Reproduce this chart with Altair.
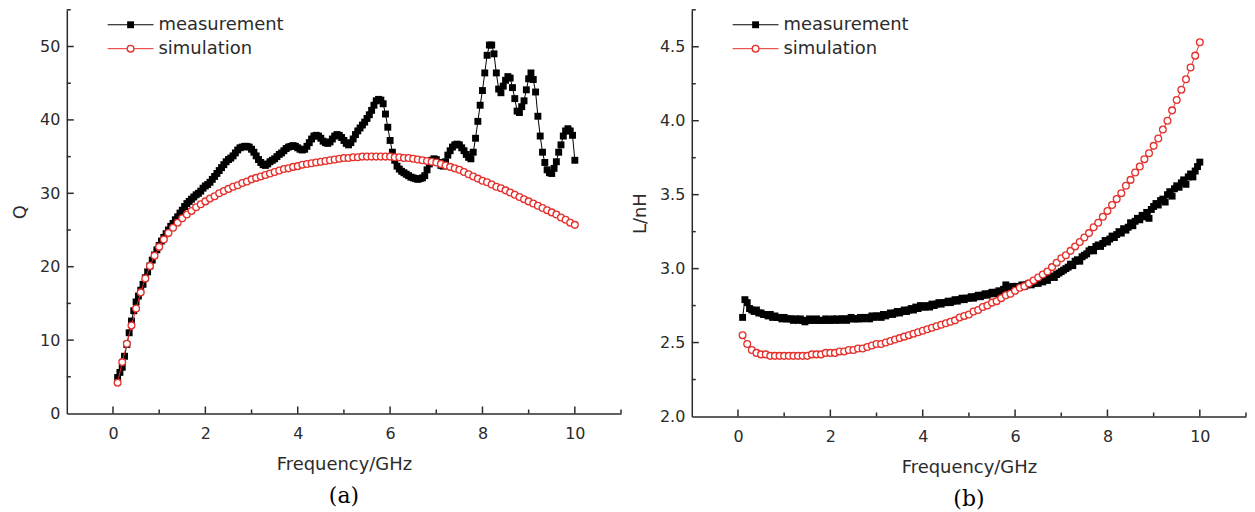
import altair as alt
import pandas as pd

# ---------------- data ----------------
# measurement sampled every 0.05 GHz from 0.10 to 10.00 GHz
q_meas = [
    4.9, 5.6, 6.3, 7.8, 9.4, 11.0, 12.6, 14.0, 15.2, 16.0,
    16.8, 17.6, 18.5, 19.3, 20.1, 20.9, 21.6, 22.3, 22.9, 23.5,
    24.0, 24.5, 25.0, 25.5, 25.9, 26.4, 26.8, 27.3, 27.7, 28.2,
    28.6, 28.9, 29.2, 29.5, 29.8, 30.0, 30.3, 30.7, 31.0, 31.2,
    31.5, 31.9, 32.3, 32.7, 33.1, 33.5, 33.9, 34.3, 34.6, 34.8,
    35.1, 35.5, 35.9, 36.2, 36.3, 36.4, 36.4, 36.3, 36.0, 35.6,
    35.1, 34.6, 34.2, 33.9, 33.8, 34.0, 34.3, 34.5, 34.7, 35.0,
    35.3, 35.5, 35.8, 36.1, 36.3, 36.4, 36.5, 36.4, 36.2, 36.0,
    35.9, 36.0, 36.4, 36.9, 37.4, 37.8, 37.9, 37.8, 37.5, 37.1,
    36.9, 36.8, 37.0, 37.4, 37.8, 38.0, 37.9, 37.6, 37.2, 36.8,
    36.6, 36.9, 37.4, 38.0, 38.5, 38.9, 39.3, 39.7, 40.2, 40.7,
    41.3, 42.0, 42.6, 42.8, 42.7, 42.2, 40.8, 39.0, 37.2, 35.6,
    34.5, 33.7, 33.3, 33.0, 32.8, 32.6, 32.4, 32.2, 32.1, 32.0,
    31.9, 32.0, 32.1, 32.4, 33.2, 34.0, 34.5, 34.7, 34.6, 34.2,
    33.8, 33.7, 34.3, 35.2, 35.8, 36.3, 36.6, 36.7, 36.6, 36.2,
    35.8, 35.3, 34.9, 34.7, 35.6, 37.5, 39.8, 42.0, 44.0, 46.4,
    48.8, 50.2, 50.2, 49.0, 46.4, 44.2, 43.7, 44.6, 45.4, 45.9,
    45.7, 44.4, 42.9, 41.2, 41.0, 41.8, 42.6, 44.1, 45.6, 46.4,
    45.5, 43.8, 40.5, 37.8, 35.6, 34.2, 33.2, 32.8, 32.7, 33.4,
    34.3, 35.6, 36.6, 37.8, 38.5, 38.8, 38.5, 37.9, 34.5,
]
l_meas = [
    2.67, 2.79, 2.77, 2.73, 2.72, 2.71, 2.72, 2.70, 2.70, 2.69,
    2.69, 2.68, 2.69, 2.67, 2.68, 2.67, 2.67, 2.66, 2.67, 2.66,
    2.66, 2.66, 2.65, 2.66, 2.65, 2.66, 2.65, 2.64, 2.65, 2.66,
    2.65, 2.65, 2.66, 2.65, 2.65, 2.65, 2.66, 2.65, 2.65, 2.66,
    2.65, 2.66, 2.65, 2.66, 2.66, 2.65, 2.66, 2.67, 2.66, 2.66,
    2.66, 2.67, 2.66, 2.67, 2.67, 2.66, 2.68, 2.67, 2.68, 2.68,
    2.67, 2.69, 2.68, 2.69, 2.70, 2.69, 2.70, 2.71, 2.70, 2.71,
    2.72, 2.71, 2.72, 2.73, 2.72, 2.74, 2.73, 2.75, 2.74, 2.74,
    2.75, 2.74, 2.76, 2.75, 2.76, 2.77, 2.76, 2.77, 2.77, 2.78,
    2.77, 2.78, 2.79, 2.78, 2.79, 2.80, 2.79, 2.80, 2.80, 2.81,
    2.80, 2.81, 2.82, 2.81, 2.82, 2.83, 2.82, 2.83, 2.84, 2.83,
    2.84, 2.85, 2.84, 2.86, 2.89, 2.86, 2.87, 2.88, 2.87, 2.88,
    2.88, 2.89, 2.88, 2.89, 2.90, 2.89, 2.90, 2.91, 2.90, 2.92,
    2.91, 2.93, 2.92, 2.94, 2.95, 2.94, 2.96, 2.97, 2.98, 2.99,
    3.00, 3.01, 3.03, 3.02, 3.05, 3.06, 3.05, 3.08, 3.09, 3.10,
    3.12, 3.13, 3.12, 3.15, 3.16, 3.15, 3.17, 3.19, 3.18, 3.20,
    3.22, 3.21, 3.23, 3.25, 3.24, 3.27, 3.26, 3.28, 3.31, 3.29,
    3.32, 3.34, 3.33, 3.36, 3.35, 3.38, 3.34, 3.40, 3.42, 3.44,
    3.43, 3.46, 3.47, 3.45, 3.50, 3.52, 3.49, 3.54, 3.56, 3.55,
    3.58, 3.60, 3.57, 3.62, 3.64, 3.62, 3.66, 3.69, 3.72,
]
# simulation sampled every 0.1 GHz from 0.1 to 10.0 GHz
q_sim = [
    4.2, 7.0, 9.5, 12.0, 14.3, 16.5, 18.4, 20.1, 21.5, 22.7,
    23.7, 24.6, 25.3, 26.0, 26.6, 27.1, 27.6, 28.1, 28.5, 28.9,
    29.3, 29.6, 30.0, 30.3, 30.6, 30.9, 31.1, 31.4, 31.6, 31.9,
    32.1, 32.3, 32.5, 32.7, 32.9, 33.1, 33.3, 33.4, 33.6, 33.7,
    33.9, 34.0, 34.1, 34.2, 34.3, 34.4, 34.5, 34.6, 34.7, 34.8,
    34.8, 34.9, 34.9, 35.0, 35.0, 35.0, 35.0, 35.0, 35.0, 35.0,
    34.9, 34.9, 34.8, 34.8, 34.7, 34.6, 34.5, 34.4, 34.3, 34.2,
    34.0, 33.8, 33.6, 33.4, 33.2, 32.9, 32.6, 32.3, 32.0, 31.7,
    31.5, 31.2, 30.9, 30.7, 30.4, 30.1, 29.8, 29.5, 29.2, 28.9,
    28.6, 28.3, 28.0, 27.7, 27.4, 27.1, 26.7, 26.4, 26.0, 25.7,
]
l_sim = [
    2.55, 2.49, 2.45, 2.43, 2.42, 2.42, 2.41, 2.41, 2.41, 2.41,
    2.41, 2.41, 2.41, 2.41, 2.41, 2.42, 2.42, 2.42, 2.43, 2.43,
    2.43, 2.44, 2.44, 2.45, 2.45, 2.46, 2.46, 2.47, 2.48, 2.49,
    2.49, 2.50, 2.51, 2.52, 2.53, 2.54, 2.55, 2.56, 2.57, 2.58,
    2.59, 2.60, 2.61, 2.62, 2.63, 2.64, 2.65, 2.67, 2.68, 2.69,
    2.71, 2.72, 2.74, 2.75, 2.77, 2.78, 2.80, 2.82, 2.83, 2.85,
    2.87, 2.88, 2.90, 2.92, 2.94, 2.96, 2.98, 3.01, 3.04, 3.07,
    3.09, 3.12, 3.15, 3.18, 3.21, 3.24, 3.28, 3.31, 3.35, 3.39,
    3.43, 3.47, 3.51, 3.56, 3.60, 3.65, 3.69, 3.74, 3.78, 3.83,
    3.88, 3.94, 4.00, 4.07, 4.14, 4.21, 4.28, 4.36, 4.44, 4.53,
]
freq_meas = [round(0.10 + 0.05 * i, 2) for i in range(len(q_meas))]
freq_sim = [round(0.1 * (i + 1), 1) for i in range(len(q_sim))]

series_names = ["measurement", "simulation"]
x_major = [0, 2, 4, 6, 8, 10]
x_minor = [1, 3, 5, 7, 9, 11]
q_major = [10, 20, 30, 40, 50]
q_minor = [5, 15, 25, 35, 45, 55]
l_major = [2.5, 3.0, 3.5, 4.0, 4.5]
l_minor = [2.25, 2.75, 3.25, 3.75, 4.25, 4.75]

# ---------------- styling ----------------
FONT = "DejaVu Sans"
INK = "#2b2b2b"
RED = "#e5302c"
W = 556
SQ = 48
CI = 46


def panel(meas_vals, sim_vals, ydom, ymaj, ymin, ytitle, yfmt, H, label):
    xs = alt.Scale(domain=[-1, 11], nice=False, zero=False)
    ys = alt.Scale(domain=ydom, nice=False, zero=False)
    xaxis = alt.Axis(values=x_major, title="Frequency/GHz", format="d")
    yaxis = alt.Axis(values=[ydom[0]] + ymaj, title=ytitle, format=yfmt)

    def X(f):
        return alt.X(f, type="quantitative", scale=xs, axis=xaxis)

    def Y(f):
        return alt.Y(f, type="quantitative", scale=ys, axis=yaxis)

    dm = pd.DataFrame({"f": freq_meas, "v": meas_vals})
    ds = pd.DataFrame({"f": freq_sim, "v": sim_vals})

    meas_line = alt.Chart(dm).mark_line(color="black", strokeWidth=1).encode(x=X("f"), y=Y("v"))
    meas_pts = alt.Chart(dm).mark_point(
        shape="square", filled=True, color="black", size=SQ, opacity=1
    ).encode(x=X("f"), y=Y("v"))
    sim_line = alt.Chart(ds).mark_line(color=RED, strokeWidth=1).encode(x=X("f"), y=Y("v"))
    sim_pts = alt.Chart(ds).mark_point(
        shape="circle", filled=False, fill="white", fillOpacity=1, stroke=RED,
        strokeWidth=1.3, size=CI, opacity=1
    ).encode(x=X("f"), y=Y("v"))

    xt_major = alt.Chart(pd.DataFrame({"t": x_major})).mark_rule(color=INK, strokeWidth=1.5).encode(
        x=X("t"), y=alt.value(H), y2=alt.value(H - 7))
    xt_minor = alt.Chart(pd.DataFrame({"t": x_minor})).mark_rule(color=INK, strokeWidth=1.5).encode(
        x=X("t"), y=alt.value(H), y2=alt.value(H - 4))
    yt_major = alt.Chart(pd.DataFrame({"t": ymaj})).mark_rule(color=INK, strokeWidth=1.5).encode(
        y=Y("t"), x=alt.value(0), x2=alt.value(7))
    yt_minor = alt.Chart(pd.DataFrame({"t": ymin})).mark_rule(color=INK, strokeWidth=1.5).encode(
        y=Y("t"), x=alt.value(0), x2=alt.value(4))

    # legend (drawn in panel pixels)
    leg = []
    rows = [(15, "black", "square", True), (39, RED, "circle", False)]
    for name, (yy, col, shp, fil) in zip(series_names, rows):
        leg.append(alt.Chart(pd.DataFrame({"s": [name]})).mark_rule(color=col, strokeWidth=1).encode(
            x=alt.value(41), x2=alt.value(87), y=alt.value(yy)))
        if fil:
            leg.append(alt.Chart(pd.DataFrame({"s": [name]})).mark_point(
                shape=shp, filled=True, color=col, size=SQ, opacity=1).encode(
                x=alt.value(64), y=alt.value(yy)))
        else:
            leg.append(alt.Chart(pd.DataFrame({"s": [name]})).mark_point(
                shape=shp, filled=False, fill="white", fillOpacity=1, stroke=col,
                strokeWidth=1.3, size=CI, opacity=1).encode(x=alt.value(64), y=alt.value(yy)))
        leg.append(alt.Chart(pd.DataFrame({"s": [name]})).mark_text(
            align="left", baseline="middle", font=FONT, fontSize=18, color=INK).encode(
            x=alt.value(92), y=alt.value(yy), text="s:N"))

    return alt.layer(
        meas_line, meas_pts, sim_line, sim_pts,
        xt_major, xt_minor, yt_major, yt_minor, *leg
    ).properties(
        width=W, height=H,
        title=alt.TitleParams(label, orient="bottom", font="DejaVu Serif", fontSize=22,
                              fontWeight="normal", color="black", offset=13),
    )


left = panel(q_meas, q_sim, [0, 55], q_major, q_minor, "Q", "d", 405, "(a)")
right = panel(l_meas, l_sim, [2.0, 4.75], l_major, l_minor, "L/nH", ".1f", 408, "(b)")

chart = alt.hconcat(left, right, spacing=9).properties(
    padding={"left": 3, "top": 0, "right": 0, "bottom": 0}
).configure_view(stroke=None).configure_axis(
    grid=False, ticks=False, domainColor=INK, domainWidth=1.5,
    labelFont=FONT, labelFontSize=16, labelColor=INK,
    titleFont=FONT, titleFontSize=18, titleFontWeight="normal", titleColor=INK,
).configure_axisX(labelPadding=12, titlePadding=14).configure_axisY(
    labelPadding=7, titlePadding=10
)

chart.save("out.html", embed_options={"renderer": "svg", "actions": False})
